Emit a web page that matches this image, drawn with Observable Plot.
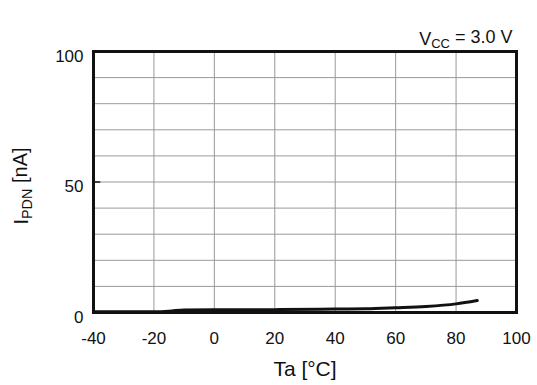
<!DOCTYPE html>
<html>
<head>
<meta charset="utf-8">
<script src="https://cdn.jsdelivr.net/npm/d3@7"></script>
<script src="https://cdn.jsdelivr.net/npm/@observablehq/plot@0.6"></script>
<style>
  html, body { margin: 0; padding: 0; background: #fff; }
</style>
</head>
<body>
<div id="chart"></div>
<script>
const temps = [-40, -30, -20, -15, -10, 0, 20, 40, 50, 60, 70, 80, 87];
const currents = [0.3, 0.3, 0.3, 0.5, 1.0, 1.1, 1.1, 1.3, 1.4, 1.8, 2.3, 3.3, 4.6];
const xTicks = [-40, -20, 0, 20, 40, 60, 80, 100];
const yTickLabels = [0, 50, 100];
const yMinorTicks = [50];
const yGrid = [10, 20, 30, 40, 50, 60, 70, 80, 90];

const data = temps.map((t, i) => ({t, i: currents[i]}));
const xMin = xTicks[0];

const chart = Plot.plot({
  width: 537,
  height: 385,
  marginLeft: 93,
  marginRight: 21,
  marginTop: 51,
  marginBottom: 73,
  style: {fontFamily: "Liberation Sans, Arial, sans-serif", background: "#fff", color: "#111"},
  x: {domain: [-40, 100], axis: null},
  y: {domain: [0, 100], axis: null},
  marks: [
    Plot.ruleX(xTicks, {stroke: "#999", strokeWidth: 1}),
    Plot.ruleY(yGrid, {stroke: "#999", strokeWidth: 1}),
    Plot.text(xTicks, {x: d => d, text: d => `${d}`, frameAnchor: "bottom", lineAnchor: "middle", dy: 26, fontSize: 17, fill: "#111"}),
    Plot.text(yTickLabels, {y: d => d, text: d => `${d}`, frameAnchor: "left", textAnchor: "end", dx: -10, dy: 5, fontSize: 17, fill: "#111"}),
    Plot.ruleY(yMinorTicks, {x1: () => xMin, x2: () => xMin + 2.4, stroke: "#111", strokeWidth: 1.5}),
    Plot.line(data, {x: "t", y: "i", curve: "monotone-x", stroke: "#111", strokeWidth: 3}),
    Plot.frame({stroke: "#111", strokeWidth: 3}),
    Plot.text(["Ta [°C]"], {frameAnchor: "bottom", lineAnchor: "middle", dy: 57, fontSize: 21, fill: "#111", className: "xlabel"}),
    Plot.text(["IPDN [nA]"], {frameAnchor: "left", textAnchor: "middle", dx: -72, dy: 4, rotate: -90, fontSize: 20, fill: "#111", className: "ylabel"}),
    Plot.text(["VCC = 3.0 V"], {frameAnchor: "top-right", lineAnchor: "bottom", dx: -4, dy: -7, textAnchor: "end", fontSize: 18, fill: "#111", className: "vcc"})
  ]
});

// subscripts
function subscript(cls, main, sub, rest) {
  const t = d3.select(chart).select(`g.${cls} text`);
  if (t.empty()) return;
  t.text(null);
  t.append("tspan").text(main);
  t.append("tspan").attr("font-size", "0.72em").attr("dy", "0.25em").text(sub);
  t.append("tspan").attr("dy", "-0.25em").text(rest);
}
subscript("ylabel", "I", "PDN", " [nA]");
subscript("vcc", "V", "CC", " = 3.0 V");

document.getElementById("chart").appendChild(chart);
</script>
</body>
</html>
